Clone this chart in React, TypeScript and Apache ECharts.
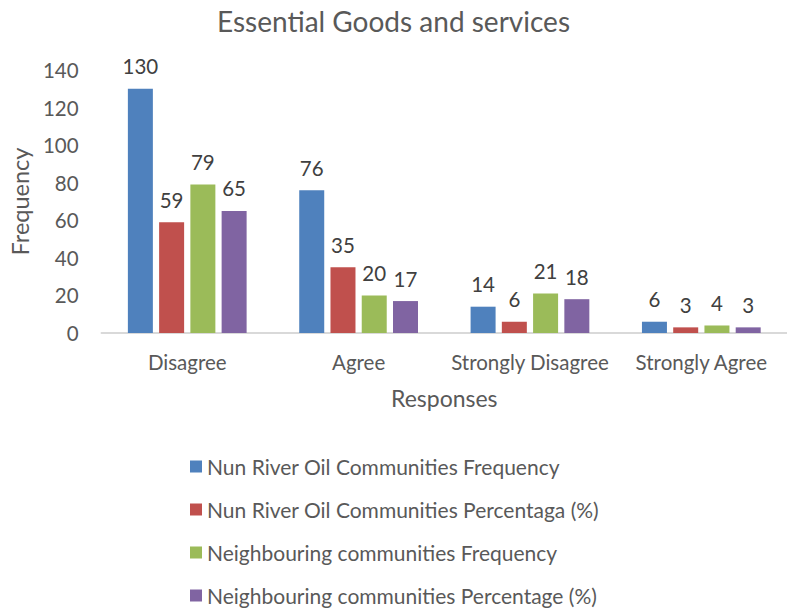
import React, { useEffect, useRef } from "react";
import * as echarts from "echarts";

const categories = ["Disagree", "Agree", "Strongly Disagree", "Strongly Agree"];
const nunFreq = [130, 76, 14, 6];
const nunPct = [59, 35, 6, 3];
const neighFreq = [79, 20, 21, 4];
const neighPct = [65, 17, 18, 3];
const seriesNames = [
  "Nun River Oil Communities Frequency",
  "Nun River Oil Communities Percentaga (%)",
  "Neighbouring communities Frequency",
  "Neighbouring communities Percentage (%)",
];
const colors = ["#4f81bd", "#c0504d", "#9bbb59", "#8064a2"];

const FONT = "Lato, 'Open Sans', sans-serif";

export default function App() {
  const ref = useRef<HTMLDivElement>(null);
  useEffect(() => {
    document.body.style.margin = "0";
    const chart = echarts.init(ref.current!, null, { renderer: "svg" });
    const data = [nunFreq, nunPct, neighFreq, neighPct];
    chart.setOption({
      animation: false,
      backgroundColor: "#ffffff",
      textStyle: { fontFamily: FONT },
      title: {
        text: "Essential Goods and services",
        left: "center",
        top: 2,
        textStyle: { fontFamily: FONT, fontSize: 28, fontWeight: "normal", color: "#595959" },
      },
      legend: {
        orient: "vertical",
        left: 190,
        top: 456,
        height: 154,
        padding: 0,
        itemGap: 22,
        itemWidth: 12,
        itemHeight: 12,
        icon: "rect",
        textStyle: { fontFamily: FONT, fontSize: 21, color: "#595959" },
        data: seriesNames,
      },
      grid: { left: 100, right: 0, top: 70, bottom: 277 },
      xAxis: {
        type: "category",
        data: categories,
        name: "Responses",
        nameLocation: "middle",
        nameGap: 53,
        nameTextStyle: { fontFamily: FONT, fontSize: 23, color: "#595959" },
        axisLine: { lineStyle: { color: "#d9d9d9", width: 2 } },
        axisTick: { show: false },
        axisLabel: { interval: 0, fontFamily: FONT, fontSize: 20.5, color: "#595959", margin: 18 },
      },
      yAxis: {
        type: "value",
        min: 0,
        max: 140,
        interval: 20,
        name: "Frequency",
        nameLocation: "middle",
        nameGap: 64,
        nameTextStyle: { fontFamily: FONT, fontSize: 23.5, color: "#595959" },
        splitLine: { show: false },
        axisLine: { show: false },
        axisTick: { show: false },
        axisLabel: { fontFamily: FONT, fontSize: 20.5, color: "#595959", margin: 23 },
      },
      series: data.map((d, i) => ({
        name: seriesNames[i],
        type: "bar",
        data: d,
        barWidth: 25,
        barGap: "25%",
        itemStyle: { color: colors[i] },
        label: {
          show: true,
          position: "top",
          distance: 12,
          fontFamily: FONT,
          fontSize: 20.5,
          color: "#404040",
        },
      })),
    });
    return () => chart.dispose();
  }, []);
  return <div ref={ref} style={{ width: 787, height: 610 }} />;
}
